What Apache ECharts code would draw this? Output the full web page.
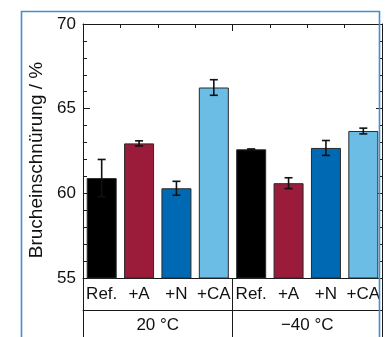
<!DOCTYPE html>
<html>
<head>
<meta charset="utf-8">
<script src="https://cdn.jsdelivr.net/npm/echarts@6/dist/echarts.min.js"></script>
<style>
html,body{margin:0;padding:0;background:#fff;}
#c{width:388px;height:337px;}
</style>
</head>
<body>
<div id="c"></div>
<script>
// ---- data ----
const categories = ['Ref.', '+A', '+N', '+CA', 'Ref.', '+A', '+N', '+CA'];
const groups = ['20 °C', '\u221240 °C'];
const values = [60.9, 62.95, 60.3, 66.25, 62.6, 60.6, 62.68, 63.68];
const errors = [1.1, 0.15, 0.41, 0.46, 0.02, 0.32, 0.44, 0.17];
const barColors = ['#000000', '#9b1b3b', '#0069b4', '#6bbde6', '#000000', '#9b1b3b', '#0069b4', '#6bbde6'];
const yTitle = 'Brucheinschnürung / %';

const FONT = '"Liberation Sans", Arial, sans-serif';
const AX = '#1a1a1a';

const chart = echarts.init(document.getElementById('c'), null, {renderer: 'canvas'});

const option = {
  animation: false,
  backgroundColor: '#fff',
  grid: {left: 83, right: 6, top: 24, bottom: 59, containLabel: false},
  xAxis: [
    { // bottom: category labels
      type: 'category', data: categories, position: 'bottom',
      axisLine: {show: true, lineStyle: {color: AX, width: 1}},
      axisTick: {show: true, inside: false, length: 32, interval: (i) => i % 4 === 0, lineStyle: {color: AX, width: 1}},
      axisLabel: {show: true, interval: 0, fontSize: 17, fontFamily: FONT, color: '#111', margin: 8},
      splitLine: {show: false}
    },
    { // top: small ticks
      type: 'category', data: categories, position: 'top',
      axisLine: {show: true, lineStyle: {color: AX, width: 1}},
      axisTick: {show: true, inside: true, length: 4, interval: 0, lineStyle: {color: AX, width: 1}},
      axisLabel: {show: false}, splitLine: {show: false}
    },
    { // bottom: group labels
      type: 'category', data: groups, position: 'bottom', offset: 32,
      axisLine: {show: true, lineStyle: {color: AX, width: 1}},
      axisTick: {show: true, inside: false, length: 40, interval: 0, lineStyle: {color: AX, width: 1}},
      axisLabel: {show: true, interval: 0, fontSize: 17, fontFamily: FONT, color: '#111', margin: 7},
      splitLine: {show: false}
    },
    { // top: long group separator tick
      type: 'category', data: categories, position: 'top',
      axisLine: {show: false},
      axisTick: {show: true, inside: true, length: 7, interval: (i) => i % 4 === 0, lineStyle: {color: AX, width: 1}},
      axisLabel: {show: false}, splitLine: {show: false}
    }
  ],
  yAxis: [
    {
      type: 'value', min: 55, max: 70, interval: 5, position: 'left',
      name: yTitle, nameLocation: 'middle', nameGap: 36,
      nameTextStyle: {fontSize: 19, fontFamily: FONT, color: '#111', padding: [0, 18, 0, 0]},
      axisLine: {show: true, lineStyle: {color: AX, width: 1}},
      axisTick: {show: true, inside: true, length: 7, lineStyle: {color: AX, width: 1}},
      minorTick: {show: true, splitNumber: 5, length: 4, lineStyle: {color: AX, width: 1}},
      axisLabel: {show: true, fontSize: 17, fontFamily: FONT, color: '#111', margin: 7},
      splitLine: {show: false}
    },
    {
      type: 'value', min: 55, max: 70, interval: 5, position: 'right',
      axisLine: {show: true, lineStyle: {color: AX, width: 1}},
      axisTick: {show: true, inside: true, length: 6, lineStyle: {color: AX, width: 1}},
      minorTick: {show: true, splitNumber: 5, length: 3, lineStyle: {color: AX, width: 1}},
      axisLabel: {show: false},
      splitLine: {show: false}
    }
  ],
  series: [
    {
      type: 'bar', xAxisIndex: 0, yAxisIndex: 0, barWidth: 30,
      data: values.map((v, i) => ({value: v, itemStyle: {color: barColors[i]}})),
      itemStyle: {borderColor: '#2a2a2a', borderWidth: 1},
      z: 2
    },
    {
      type: 'custom', xAxisIndex: 0, yAxisIndex: 0, z: 5,
      data: values.map((v, i) => [i, v, errors[i]]),
      renderItem: function (params, api) {
        const x = api.value(0), v = api.value(1), e = api.value(2);
        const hi = api.coord([x, v + e]);
        const lo = api.coord([x, v - e]);
        const hw = 4;
        const st = {stroke: '#111', lineWidth: 1.6};
        return {
          type: 'group',
          children: [
            {type: 'line', shape: {x1: hi[0], y1: hi[1], x2: lo[0], y2: lo[1]}, style: st},
            {type: 'line', shape: {x1: hi[0] - hw, y1: hi[1], x2: hi[0] + hw, y2: hi[1]}, style: st},
            {type: 'line', shape: {x1: lo[0] - hw, y1: lo[1], x2: lo[0] + hw, y2: lo[1]}, style: st}
          ]
        };
      }
    }
  ],
  graphic: [
    {
      type: 'rect', z: 100, silent: true,
      shape: {x: 21.5, y: 11.5, width: 358, height: 340},
      style: {fill: 'none', stroke: '#3f8fd4', lineWidth: 1.6}
    }
  ]
};
chart.setOption(option);
</script>
</body>
</html>
